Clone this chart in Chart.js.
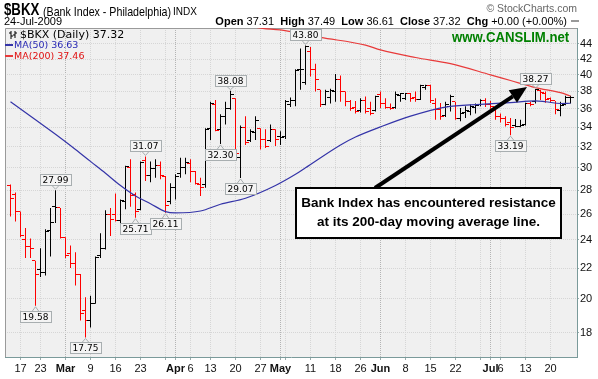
<!DOCTYPE html>
<html>
<head>
<meta charset="utf-8">
<title>$BKX Daily</title>
<script src="https://cdn.jsdelivr.net/npm/chart.js@4.4.1/dist/chart.umd.min.js"></script>
<style>
  body { margin: 0; background: #fff; }
  #wrap { position: relative; width: 598px; height: 379px; overflow: hidden; font-family: "Liberation Sans", Arial, sans-serif; }
  #chart { position: absolute; left: 0; top: 0; }
  .t { position: absolute; white-space: nowrap; line-height: 1; color: #000; pointer-events: none; transform-origin: 0 0; }
  .lg { font-family: "DejaVu Sans", Verdana, sans-serif; font-size: 9.5px; }
  .dash { position: absolute; width: 8px; height: 2px; }
</style>
</head>
<body>
<div id="wrap">
  <canvas id="chart" width="598" height="379"></canvas>

  <div class="t" style="left:4px;top:1px;font-size:17px;font-weight:bold;transform:scaleX(0.78)">$BKX</div>
  <div class="t" style="left:43px;top:5px;font-size:13px;transform:scaleX(0.82)">(Bank Index - Philadelphia)</div>
  <div class="t" style="left:173px;top:7px;font-size:10px">INDX</div>
  <div class="t" style="left:4px;top:16px;font-size:11px">24-Jul-2009</div>
  <div class="t" style="right:31px;top:16px;font-size:11px"><b>Open</b> 37.31&nbsp; <b>High</b> 37.49&nbsp; <b>Low</b> 36.61&nbsp; <b>Close</b> 37.32&nbsp; <b>Chg</b> +0.00 (+0.00%)</div>
  <div class="dash" style="left:571px;top:20px;background:#999"></div>
  <div class="t" style="right:21px;top:3px;font-size:10.5px;color:#666">© StockCharts.com</div>
  <div class="t" style="left:452px;top:30px;font-size:14px;font-weight:bold;color:#008000;transform:scaleX(0.94)">www.CANSLIM.net</div>

  <!-- legend -->
  <svg style="position:absolute;left:9px;top:31px" width="9" height="8">
    <path d="M2 0V8M0 2H2M2 5H4M6 0V7M4 4H6M6 2H8" stroke="#000" stroke-width="1" fill="none"/>
  </svg>
  <div class="t lg" style="left:20px;top:29px;font-size:11px">$BKX (Daily) 37.32</div>
  <div class="dash" style="left:5px;top:44px;background:#3434a8"></div>
  <div class="t lg" style="left:14px;top:40px;color:#2828b4">MA(50) 36.63</div>
  <div class="dash" style="left:5px;top:55px;background:#e83a3a"></div>
  <div class="t lg" style="left:14px;top:51px;color:#e01010">MA(200) 37.46</div>
</div>

<script>
// trading days shown on the chart (2009)
const days = [
  '2/12','2/13','2/17','2/18','2/19','2/20','2/23','2/24','2/25','2/26','2/27',
  '3/2','3/3','3/4','3/5','3/6','3/9','3/10','3/11','3/12','3/13','3/16','3/17','3/18','3/19','3/20','3/23','3/24','3/25','3/26','3/27','3/30','3/31',
  '4/1','4/2','4/3','4/6','4/7','4/8','4/9','4/13','4/14','4/15','4/16','4/17','4/20','4/21','4/22','4/23','4/24','4/27','4/28','4/29','4/30',
  '5/1','5/4','5/5','5/6','5/7','5/8','5/11','5/12','5/13','5/14','5/15','5/18','5/19','5/20','5/21','5/22','5/26','5/27','5/28','5/29',
  '6/1','6/2','6/3','6/4','6/5','6/8','6/9','6/10','6/11','6/12','6/15','6/16','6/17','6/18','6/19','6/22','6/23','6/24','6/25','6/26','6/29','6/30',
  '7/1','7/2','7/6','7/7','7/8','7/9','7/10','7/13','7/14','7/15','7/16','7/17','7/20','7/21','7/22','7/23','7/24'
];

const opens = [
  28.4, 27.6, 26.2, 24.0, 23.5, 22.5, 21.9, 21.7, 24.7, 26.6, 26.5,
  24.2, 23.0, 22.3, 21.6, 19.3, 18.7, 19.7, 22.9, 23.4, 26.0, 26.0, 25.5, 27.0, 30.0, 27.6, 26.4, 30.7, 29.3, 29.9, 30.2, 29.2, 27.0,
  28.2, 29.5, 30.0, 30.4, 29.7, 28.5, 28.5, 33.9, 36.5, 33.8, 35.2, 36.0, 37.2, 31.0, 34.0, 32.6, 33.5, 33.9, 32.7, 32.6, 33.8,
  33.0, 33.0, 36.5, 37.0, 40.6, 39.0, 43.0, 40.6, 38.2, 36.5, 37.3, 38.0, 39.4, 38.0, 36.8, 36.2, 35.8, 37.0, 36.0, 35.8,
  37.6, 36.6, 36.2, 36.1, 37.5, 37.2, 37.7, 37.3, 37.1, 38.5, 38.7, 36.65, 35.9, 35.3, 36.3, 36.8, 34.9, 35.6, 35.7, 36.2, 36.5, 37.0,
  36.5, 36.0, 35.2, 34.9, 34.5, 34.2, 34.1, 34.3, 36.6, 36.8, 38.1, 37.7, 37.2, 36.9, 35.8, 36.5, 37.31
];
const highs = [
  28.5, 27.8, 26.2, 24.9, 24.1, 22.5, 23.4, 24.8, 26.5, 27.99, 26.5,
  24.2, 23.6, 23.1, 21.6, 20.1, 20.2, 22.8, 24.5, 26.3, 26.5, 27.7, 27.2, 30.2, 30.8, 27.8, 30.6, 31.07, 30.6, 30.8, 30.6, 29.25, 28.6,
  29.4, 30.95, 30.95, 30.8, 29.7, 29.1, 33.9, 36.8, 37.0, 35.4, 36.8, 38.08, 37.2, 34.2, 35.2, 33.8, 35.2, 33.9, 33.8, 34.3, 33.8,
  33.6, 37.0, 37.3, 40.7, 43.4, 43.8, 43.6, 41.4, 38.2, 38.2, 38.3, 40.1, 39.9, 38.0, 37.0, 36.9, 37.2, 37.4, 36.8, 37.5,
  38.0, 37.2, 36.6, 38.0, 37.8, 37.8, 37.8, 38.0, 38.8, 38.8, 38.8, 37.2, 36.65, 36.8, 37.6, 36.8, 36.1, 36.3, 36.5, 36.6, 37.1, 37.2,
  36.9, 36.0, 35.5, 35.2, 35.0, 34.9, 34.8, 36.7, 36.8, 38.27, 38.2, 38.0, 37.3, 36.9, 36.8, 37.5, 37.49
];
const lows = [
  25.8, 25.4, 24.2, 22.7, 22.7, 19.58, 21.4, 21.5, 22.8, 25.3, 24.1,
  22.7, 22.0, 20.85, 18.7, 17.75, 18.3, 19.7, 22.7, 23.3, 24.3, 25.4, 25.1, 26.4, 26.6, 25.71, 26.3, 28.8, 28.7, 29.1, 28.95, 26.11, 26.8,
  27.2, 29.1, 29.4, 28.7, 28.5, 27.5, 28.2, 32.7, 33.6, 32.30, 34.3, 35.9, 31.3, 29.07, 32.2, 32.5, 32.7, 31.75, 31.9, 32.5, 32.1,
  32.2, 32.8, 36.2, 36.3, 38.2, 38.8, 39.8, 38.0, 36.2, 36.4, 36.6, 36.8, 36.8, 36.3, 35.8, 35.5, 35.6, 35.5, 35.3, 35.7,
  36.1, 36.0, 35.9, 36.0, 36.8, 37.0, 36.8, 36.8, 37.0, 38.2, 36.65, 34.8, 34.8, 35.1, 35.7, 34.8, 34.65, 35.0, 35.3, 35.5, 36.3, 36.2,
  36.0, 34.8, 34.5, 34.1, 33.19, 34.0, 34.0, 34.2, 36.3, 36.6, 37.0, 36.7, 36.7, 35.4, 35.2, 36.4, 36.61
];
const closes = [
  27.3, 26.2, 24.3, 23.5, 23.4, 21.6, 21.7, 24.6, 25.3, 26.5, 24.2,
  22.9, 22.3, 21.6, 19.1, 18.7, 19.7, 22.7, 23.4, 26.0, 25.6, 25.45, 27.1, 30.1, 27.5, 26.2, 30.5, 29.3, 29.9, 30.2, 29.3, 26.7, 28.2,
  29.2, 30.0, 30.5, 29.7, 28.6, 28.2, 33.8, 36.6, 33.7, 35.2, 36.0, 37.6, 31.4, 34.0, 32.4, 33.6, 34.7, 32.7, 32.0, 33.8, 32.7,
  32.9, 36.8, 36.9, 40.5, 40.6, 43.6, 40.6, 39.4, 36.5, 38.0, 38.1, 39.4, 38.0, 36.8, 36.0, 35.7, 37.0, 35.7, 35.5, 37.4,
  36.6, 36.1, 36.0, 37.6, 37.7, 37.75, 37.2, 37.03, 38.7, 38.75, 37.0, 35.9, 35.2, 36.46, 37.4, 34.9, 35.5, 35.8, 36.3, 36.4, 37.0, 36.5,
  36.3, 35.2, 34.9, 34.3, 34.0, 34.1, 34.15, 36.6, 36.5, 38.2, 37.9, 37.1, 37.0, 35.9, 36.4, 37.32, 37.32
];

// moving averages at these days
const ma50Days = ['2/12','2/20','2/27','3/4','3/9','3/12','3/17','3/20','3/25','3/30','4/1','4/8','4/15','4/22','4/30','5/6','5/8','5/19','5/22','6/1','6/9','6/18','6/29','7/8','7/15','7/17','7/22','7/24'];
const ma50 = [36.8, 34.8, 32.9, 31.75, 30.6, 29.5, 28.4, 27.5, 26.85, 26.2, 26.1, 26.25, 26.8, 27.3, 28.4, 29.4, 30.0, 32.2, 33.0, 34.05, 35.2, 36.2, 36.5, 36.7, 36.9, 36.8, 36.6, 36.63];
const ma200Days = ['4/21','4/24','5/1','5/13','5/27','6/1','6/10','6/19','7/1','7/8','7/15','7/22','7/24'];
const ma200 = [47.3, 46.35, 45.95, 44.9, 43.85, 43.2, 42.2, 41.4, 40.0, 39.3, 38.45, 37.85, 37.46];

// axis ticks
const yTicks = [18, 20, 22, 24, 26, 28, 30, 32, 34, 36, 38, 40, 42, 44];
const gridDays = ['2/17','2/23','3/2','3/9','3/16','3/23','3/30','4/1','4/6','4/13','4/20','4/27','5/1','5/4','5/11','5/18','5/26','6/1','6/8','6/15','6/22','6/29','7/1','7/6','7/13','7/20'];
const gridLabels = ['17','23','Mar','9','16','23','','Apr','6','13','20','27','May','','11','18','26','Jun','8','15','22','','Jul','6','13','20'];

// high / low call-outs
const calloutDays = ['2/20','2/26','3/6','3/20','3/24','3/30','4/15','4/17','4/21','5/8','7/8','7/15'];
const calloutValues = [19.58, 27.99, 17.75, 25.71, 31.07, 26.11, 32.30, 38.08, 29.07, 43.80, 33.19, 38.27];
const calloutAbove = [false, true, false, false, true, false, false, true, false, true, false, true];

const noteLines = ['Bank Index has encountered resistance', 'at its 200-day moving average line.'];

// annotation anchors (bar index, price)
const noteBox = { x0: 57.1, x1: 110.1, top: 28.18, bottom: 24.15 };
const noteArrow = { x0: 72.9, y0: 28.18, x1: 103.3, y1: 38.52 };

const UP = '#000000', DOWN = '#ff0000';
const PLOT_BG = '#f0f0f0', GRID = '#d6d6d6', GRID_MONTH = '#b4b4b4';

const isUp = i => closes[i] >= (i ? closes[i - 1] : opens[i]);
const barColor = i => isUp(i) ? UP : DOWN;
const dayIdx = d => days.indexOf(d);
const isMonth = v => /[A-Za-z]/.test(gridLabels[gridDays.indexOf(days[v])] || '');

function tickImage(color, left) {
  const c = document.createElement('canvas');
  c.width = 7; c.height = 1;
  const g = c.getContext('2d');
  g.fillStyle = color;
  g.fillRect(left ? 0 : 4, 0, 3, 1);
  return c;
}
const ticksImg = {
  openUp: tickImage(UP, true), openDown: tickImage(DOWN, true),
  closeUp: tickImage(UP, false), closeDown: tickImage(DOWN, false)
};

function drawCallout(ctx, x, y, text, above) {
  ctx.font = '9px "DejaVu Sans"';
  const w = Math.round(ctx.measureText(text).width) + 5, h = 11, gap = 5;
  const bx = Math.round(x - w / 2) + 0.5;
  const by = above ? Math.round(y - gap - h) + 0.5 : Math.round(y + gap) + 0.5;
  ctx.fillStyle = '#f4f4f4';
  ctx.strokeStyle = '#a8aeb0';
  ctx.lineWidth = 1;
  ctx.fillRect(bx, by, w, h);
  ctx.strokeRect(bx, by, w, h);
  ctx.beginPath();
  if (above) {
    ctx.moveTo(x - 3.5, by + h); ctx.lineTo(x, y - 1); ctx.lineTo(x + 3.5, by + h);
  } else {
    ctx.moveTo(x - 3.5, by); ctx.lineTo(x, y + 1); ctx.lineTo(x + 3.5, by);
  }
  ctx.stroke();
  ctx.fillStyle = '#000';
  ctx.textAlign = 'center';
  ctx.textBaseline = 'middle';
  ctx.fillText(text, x, by + h / 2 + 0.5);
}

const decor = {
  id: 'decor',
  beforeDraw(chart) {
    const { ctx, chartArea: a } = chart;
    ctx.save();
    ctx.fillStyle = PLOT_BG;
    ctx.fillRect(a.left, a.top, a.right - a.left, a.bottom - a.top);
    ctx.restore();
  },
  beforeDatasetsDraw(chart) {
    const { ctx, chartArea: a } = chart;
    ctx.save();
    ctx.strokeStyle = '#9a9a9a';
    ctx.lineWidth = 1;
    ctx.beginPath();
    ctx.moveTo(a.left + 0.5, a.bottom);
    ctx.lineTo(a.left + 0.5, a.top + 0.5);
    ctx.lineTo(a.right, a.top + 0.5);
    ctx.stroke();
    ctx.restore();
    ctx.imageSmoothingEnabled = false;
  },
  afterDatasetsDraw(chart) {
    const { ctx } = chart;
    const xs = chart.scales.x, ys = chart.scales.y;
    ctx.save();
    ctx.imageSmoothingEnabled = true;

    calloutDays.forEach((d, k) => {
      const x = xs.getPixelForValue(dayIdx(d));
      const y = ys.getPixelForValue(calloutValues[k]);
      drawCallout(ctx, x, y, calloutValues[k].toFixed(2), calloutAbove[k]);
    });

    // arrow
    const tx = xs.getPixelForValue(noteArrow.x0), ty = ys.getPixelForValue(noteArrow.y0);
    const hx = xs.getPixelForValue(noteArrow.x1), hy = ys.getPixelForValue(noteArrow.y1);
    const ang = Math.atan2(hy - ty, hx - tx);
    const headLen = 17, headW = 7.5;
    const bx = hx - headLen * Math.cos(ang), by = hy - headLen * Math.sin(ang);
    ctx.strokeStyle = '#000';
    ctx.fillStyle = '#000';
    ctx.lineWidth = 4;
    ctx.beginPath();
    ctx.moveTo(tx, ty);
    ctx.lineTo(bx, by);
    ctx.stroke();
    ctx.beginPath();
    ctx.moveTo(hx, hy);
    ctx.lineTo(bx + headW * Math.sin(ang), by - headW * Math.cos(ang));
    ctx.lineTo(bx - headW * Math.sin(ang), by + headW * Math.cos(ang));
    ctx.closePath();
    ctx.fill();

    // note box
    const l = Math.round(xs.getPixelForValue(noteBox.x0)), r = Math.round(xs.getPixelForValue(noteBox.x1));
    const t = Math.round(ys.getPixelForValue(noteBox.top)), b = Math.round(ys.getPixelForValue(noteBox.bottom));
    ctx.fillStyle = '#fff';
    ctx.fillRect(l, t, r - l, b - t);
    ctx.lineWidth = 2;
    ctx.strokeStyle = '#000';
    ctx.strokeRect(l, t, r - l, b - t);
    ctx.fillStyle = '#000';
    ctx.font = 'bold 13.5px "Liberation Sans", Arial, sans-serif';
    ctx.textAlign = 'center';
    ctx.textBaseline = 'middle';
    const cx = (l + r) / 2;
    ctx.fillText(noteLines[0], cx, t + 15);
    ctx.fillText(noteLines[1], cx, t + 34);
    ctx.restore();
  }
};

new Chart(document.getElementById('chart'), {
  type: 'bar',
  data: {
    datasets: [
      {
        type: 'line', label: 'MA(50)', order: 0,
        data: ma50Days.map((d, k) => ({ x: dayIdx(d), y: ma50[k] })),
        borderColor: '#3434a8', borderWidth: 1.2, pointRadius: 0, cubicInterpolationMode: 'monotone'
      },
      {
        type: 'line', label: 'MA(200)', order: 0,
        data: ma200Days.map((d, k) => ({ x: dayIdx(d), y: ma200[k] })),
        borderColor: '#e83a3a', borderWidth: 1.2, pointRadius: 0, cubicInterpolationMode: 'monotone'
      },
      {
        type: 'line', label: 'open', order: 1, showLine: false,
        data: days.map((d, i) => ({ x: i, y: opens[i] })),
        pointRadius: 3, pointHoverRadius: 3,
        pointStyle: c => isUp(c.dataIndex) ? ticksImg.openUp : ticksImg.openDown
      },
      {
        type: 'line', label: 'close', order: 1, showLine: false,
        data: days.map((d, i) => ({ x: i, y: closes[i] })),
        pointRadius: 3, pointHoverRadius: 3,
        pointStyle: c => isUp(c.dataIndex) ? ticksImg.closeUp : ticksImg.closeDown
      },
      {
        type: 'bar', label: '$BKX', order: 2,
        data: days.map((d, i) => ({ x: i, y: [lows[i], highs[i]] })),
        backgroundColor: c => barColor(c.dataIndex),
        barThickness: 1, borderWidth: 0, inflateAmount: 0
      }
    ]
  },
  options: {
    responsive: false,
    devicePixelRatio: 1,
    animation: false,
    events: [],
    layout: { padding: { left: 5, right: 0, top: 28, bottom: 0 } },
    plugins: { legend: { display: false }, tooltip: { enabled: false } },
    scales: {
      x: {
        type: 'linear', min: -1.1, max: 113.3, bounds: 'data', offset: false,
        afterBuildTicks: s => { s.ticks = gridDays.map(d => ({ value: dayIdx(d) })); },
        afterFit: s => { s.height = 22; },
        ticks: {
          autoSkip: false, maxRotation: 0, minRotation: 0, padding: 2, color: '#111',
          font: c => ({ family: '"Liberation Sans", Arial, sans-serif', size: 11, weight: (c.tick && isMonth(c.tick.value)) ? 'bold' : 'normal' }),
          callback: v => gridLabels[gridDays.indexOf(days[v])]
        },
        grid: {
          offset: false, tickLength: 3, tickColor: '#9aa',
          color: c => (c.tick && isMonth(c.tick.value)) ? GRID_MONTH : GRID
        },
        border: { display: true, color: '#7a9a9a', dash: [1, 1] }
      },
      y: {
        type: 'logarithmic', position: 'right', min: 16.71, max: 46.23, bounds: 'data',
        afterBuildTicks: s => { s.ticks = yTicks.map(v => ({ value: v })); },
        afterFit: s => { s.width = 21; },
        ticks: {
          padding: 1, color: '#111',
          font: { family: '"Liberation Sans", Arial, sans-serif', size: 11 },
          callback: v => String(v)
        },
        grid: { color: GRID, tickLength: 2, tickColor: '#9aa' },
        border: { display: true, color: '#7a9a9a', dash: [1, 1] }
      }
    }
  },
  plugins: [decor]
});
</script>
</body>
</html>
